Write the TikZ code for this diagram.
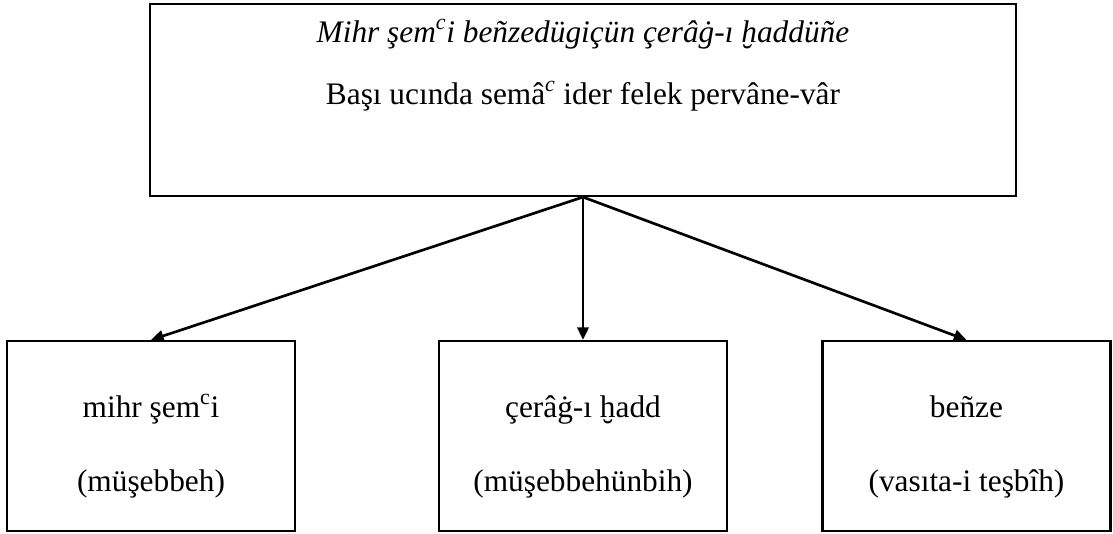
\documentclass[tikz,border=0pt]{standalone}
\usepackage{fontspec}
\setmainfont{Liberation Serif}
\usetikzlibrary{arrows.meta}
\newcommand\hbrv{\iffontchar\font"1E2B ḫ\else h\llap{\makebox[0.5em][c]{\raisebox{-0.74em}{˘}}}\fi}
\newcommand\hbrvit{\iffontchar\font"1E2B ḫ\else h\llap{\makebox[0.5em][c]{\raisebox{-0.74em}{˘}\hspace{0.12em}}}\fi}
\begin{document}
\begin{tikzpicture}[x=0.75pt,y=-0.75pt,
  box/.style={draw,line width=1.6pt,inner sep=0pt},
  txt/.style={anchor=base,inner sep=0pt,font=\fontsize{23.5}{28}\selectfont},
  arr/.style={line width=2pt,-{Triangle[length=9.5pt,width=8.5pt]}}]
\useasboundingbox (0,0) rectangle (1113,533);
\node[box,minimum width=649.5pt,minimum height=144pt] (top) at (583,100) {};
\node[box,minimum width=216pt,minimum height=142.5pt] (l) at (151,436) {};
\node[box,minimum width=216pt,minimum height=142.5pt] (m) at (583,436) {};
\node[box,minimum width=216pt,minimum height=142.5pt] (r) at (966.5,436) {};
\node[txt] (t1) at (583,42) {\itshape Mihr şem\textsuperscript{c}i beñzedügiçün çerâġ-ı \hbrvit addüñe};
\node[txt] (t2) at (583,104) {Başı ucında semâ\textsuperscript{\itshape c} ider felek pervâne-vâr};
\node[txt] (l1) at (151,417) {mihr şem\textsuperscript{c}i};
\node[txt] (l2) at (151,491) {(müşebbeh)};
\node[txt] (m1) at (583,417) {çerâġ-ı \hbrv add};
\node[txt] (m2) at (583,491) {(müşebbehünbih)};
\node[txt] (r1) at (966.5,417) {beñze};
\node[txt] (r2) at (966.5,491) {(vasıta-i teşbîh)};
\draw[arr] (top.south) -- (l.north);
\draw[arr] (top.south) -- (m.north);
\draw[arr] (top.south) -- (r.north);
\end{tikzpicture}
\end{document}
